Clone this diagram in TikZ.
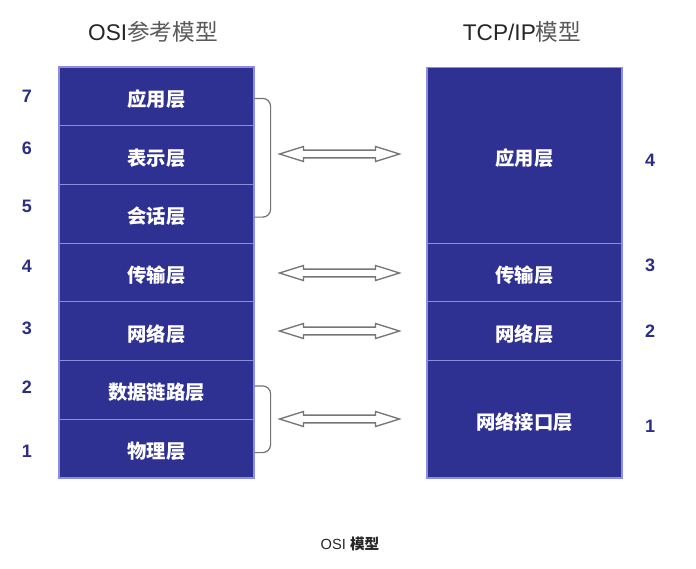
\documentclass[tikz,border=0pt]{standalone}
\usepackage{fontspec}
\setmainfont{Liberation Sans}
\newfontfamily\cjk{Noto Sans CJK SC}
\usetikzlibrary{calc}
\definecolor{boxblue}{HTML}{2E3192}
\definecolor{divline}{HTML}{8C8CE0}
\definecolor{numblue}{HTML}{2B2D86}
\definecolor{arrgray}{HTML}{767676}
\tikzset{
  layer/.style={draw=divline, line width=0.9pt, fill=boxblue, text=white,
    minimum width=146.25pt, inner sep=0pt, text height=17pt, text depth=2pt,
    font=\cjk\bfseries\fontsize{14.5}{16}\selectfont},
  num/.style={text=numblue, font=\bfseries\fontsize{13.5}{15}\selectfont},
  title/.style={font=\fontsize{17}{19}\selectfont, text=black!85},
  bracket/.style={draw=black!55, line width=0.9pt, rounded corners=6pt},
  arrowbody/.style={draw=arrgray, fill=white, line width=1pt, line join=miter}
}
\newcommand\dblarrowat[1]{%
  \draw[arrowbody] ($(#1)+(-60,0)$) -- ++(24,-7.5) -- ++(0,3.6) -- ++(72,0)
    -- ++(0,-3.6) -- ++(24,7.5) -- ++(-24,7.5) -- ++(0,-3.6) -- ++(-72,0)
    -- ++(0,3.6) -- cycle;}
\begin{document}
\begin{tikzpicture}[x=0.75pt,y=-0.75pt]
\useasboundingbox[fill=white] (0,0) rectangle (696,568);
% OSI stack
\node[layer, minimum height=44pt] (o7) at (156.5,96.4) {应用层};
\node[layer, minimum height=44pt] (o6) at (156.5,155.1) {表示层};
\node[layer, minimum height=44pt] (o5) at (156.5,213.8) {会话层};
\node[layer, minimum height=44pt] (o4) at (156.5,272.5) {传输层};
\node[layer, minimum height=44pt] (o3) at (156.5,331.2) {网络层};
\node[layer, minimum height=44pt] (o2) at (156.5,389.9) {数据链路层};
\node[layer, minimum height=44pt] (o1) at (156.5,448.6) {物理层};
% TCP/IP stack
\node[layer, minimum height=132pt] (t4) at (524.5,155.1) {应用层};
\node[layer, minimum height=44pt] (t3) at (524.5,272.5) {传输层};
\node[layer, minimum height=44pt] (t2) at (524.5,331.2) {网络层};
\node[layer, minimum height=88pt] (t1) at (524.5,419.3) {网络接口层};
% titles
\node[title] (h1) at (153,32) {OSI{\cjk\color{black!65}参考模型}};
\node[title] (h2) at (522,32) {TCP/IP{\cjk\color{black!65}模型}};
% numbers
\node[num] (n7) at (27,96) {7};
\node[num] (n6) at (27,148) {6};
\node[num] (n5) at (27,206) {5};
\node[num] (n4) at (27,266) {4};
\node[num] (n3) at (27,328) {3};
\node[num] (n2) at (27,387) {2};
\node[num] (n1) at (27,451) {1};
\node[num] (m4) at (650,160) {4};
\node[num] (m3) at (650,265) {3};
\node[num] (m2) at (650,331) {2};
\node[num] (m1) at (650,426) {1};
% brackets
\coordinate (b1a) at ([yshift=-1.5pt]o7.east);
\coordinate (b1b) at ([yshift=-2.5pt]o5.east);
\draw[bracket] (b1a) -- ++(16,0) |- (b1b);
\coordinate (b2a) at ([yshift=3pt]o2.east);
\coordinate (b2b) at ([yshift=-3pt]o1.east);
\draw[bracket] (b2a) -- ++(16,0) |- (b2b);
% arrows
\coordinate (a1) at (339.5,154);
\coordinate (a2) at (339.5,273);
\coordinate (a3) at (339.5,331);
\coordinate (a4) at (339.5,419);
\dblarrowat{a1}
\dblarrowat{a2}
\dblarrowat{a3}
\dblarrowat{a4}
% caption
\node[font=\fontsize{11}{13}\selectfont, text=black!85] (cap) at (350,544) {OSI {\cjk\bfseries 模型}};
\end{tikzpicture}
\end{document}
